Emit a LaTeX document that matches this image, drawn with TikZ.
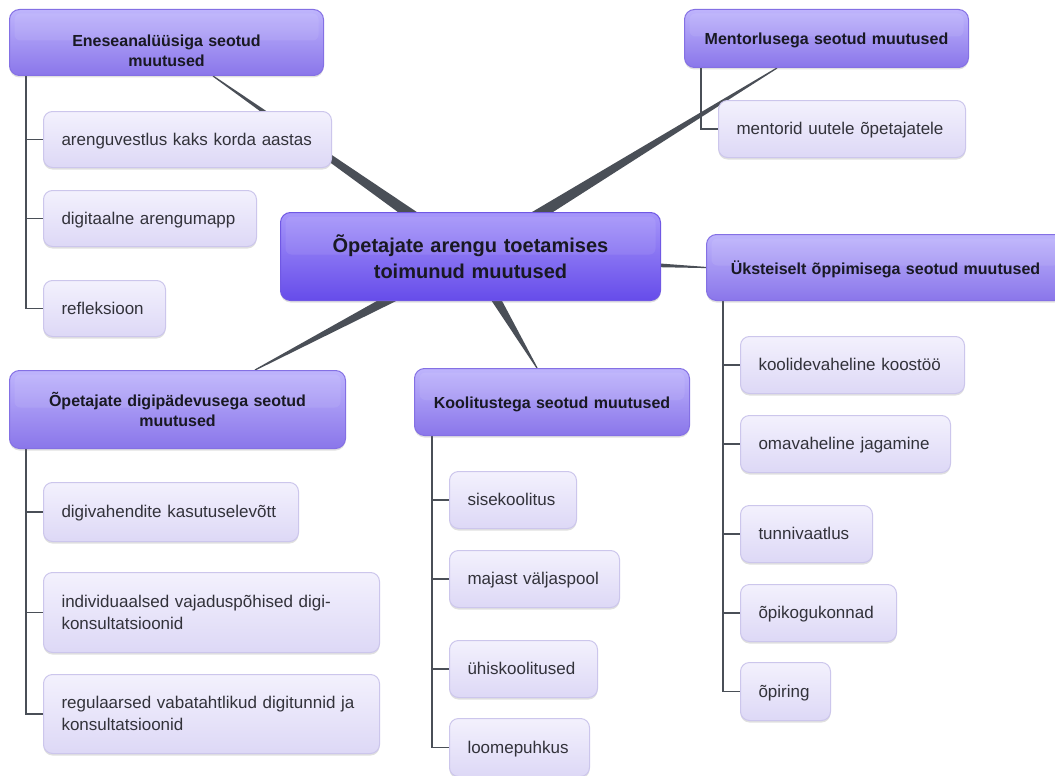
\documentclass[tikz,border=0pt]{standalone}
\usepackage{fontspec}
\setmainfont{Liberation Sans}
\usetikzlibrary{calc,shadows,backgrounds}
\definecolor{hdrtop}{RGB}{190,180,252}
\definecolor{hdrbot}{RGB}{138,118,234}
\definecolor{hdrborder}{RGB}{132,112,228}
\definecolor{roottop}{RGB}{166,150,250}
\definecolor{rootbot}{RGB}{102,76,234}
\definecolor{rootborder}{RGB}{112,88,228}
\definecolor{kidtop}{RGB}{243,241,253}
\definecolor{kidbot}{RGB}{221,216,246}
\definecolor{kidborder}{RGB}{204,198,236}
\definecolor{conncol}{RGB}{74,79,87}
\definecolor{txtdark}{RGB}{25,25,35}
\definecolor{txtkid}{RGB}{50,50,58}
\newcommand\mytaper[2]{%
  \fill[conncol] let \p1=(#1.center), \p2=(#2), \n1={atan2(\y2-\y1,\x2-\x1)} in
    ($(\p1)+(\n1+90:7pt)$) -- ($(\p2)+(\n1+90:0.6pt)$) -- ($(\p2)+(\n1-90:0.6pt)$) -- ($(\p1)+(\n1-90:7pt)$) -- cycle;}
\tikzset{
  shade/.style={drop shadow={shadow xshift=0pt, shadow yshift=-2pt, opacity=0.2, fill=black!60}},
  gloss/.style={path picture={\fill[white, opacity=0.08, rounded corners=6pt]
      ([xshift=5pt,yshift=-4pt]path picture bounding box.north west) rectangle
      ([xshift=-5pt,yshift=2pt]path picture bounding box.east);}},
  hdr/.style={draw=hdrborder, line width=1pt, rounded corners=10pt, top color=hdrtop, bottom color=hdrbot,
      font=\bfseries\fontsize{16}{20}\selectfont, text=txtdark, align=center, anchor=north west,
      inner xsep=2pt, inner ysep=0pt, shade, gloss,
      execute at begin node={\rule{0pt}{18pt}}, execute at end node={\rule[-5pt]{0pt}{0pt}}},
  rootbox/.style={draw=rootborder, line width=1pt, rounded corners=10pt, top color=roottop, bottom color=rootbot,
      font=\bfseries\fontsize{20}{26}\selectfont, text=txtdark, align=center, anchor=north west,
      inner xsep=2pt, inner ysep=0pt, shade, gloss},
  kid/.style={draw=kidborder, line width=1pt, rounded corners=9pt, top color=kidtop, bottom color=kidbot,
      font=\fontsize{17}{22}\selectfont, text=txtkid, align=left, anchor=north west,
      inner xsep=18pt, inner ysep=0pt, shade,
      execute at begin node={\rule{0pt}{16pt}}, execute at end node={\rule[-5pt]{0pt}{0pt}}},
  bracket/.style={draw=conncol, line width=1.5pt}
}
\begin{document}
\begin{tikzpicture}[x=1pt,y=-1pt]
\useasboundingbox (0,0) rectangle (1055,776);
% root
\node[rootbox, text width=376pt, minimum height=88pt] (root) at (280,212) {Õpetajate arengu toetamises\\toimunud muutused};
% headers
\node[hdr, text width=310pt, minimum height=66pt] (hE) at (9,9) {\rule{0pt}{34pt}Eneseanalüüsiga seotud\\muutused};
\node[hdr, text width=280pt, minimum height=58pt] (hM) at (684,9) {Mentorlusega seotud muutused};
\node[hdr, text width=354pt, minimum height=66pt] (hU) at (706,234) {Üksteiselt õppimisega seotud muutused};
\node[hdr, text width=332pt, minimum height=78pt] (hD) at (9,370) {Õpetajate digipädevusega seotud\\muutused};
\node[hdr, text width=271pt, minimum height=67pt] (hK) at (414,368) {Koolitustega seotud muutused};
% children E
\node[kid, text width=252pt, minimum height=56pt] (e1) at (43,111) {arenguvestlus kaks korda aastas};
\node[kid, text width=177pt, minimum height=56pt] (e2) at (43,190) {digitaalne arengumapp};
\node[kid, text width=86pt, minimum height=56pt] (e3) at (43,280) {refleksioon};
% children M
\node[kid, text width=211pt, minimum height=57pt] (m1) at (718,100) {mentorid uutele õpetajatele};
% children U
\node[kid, text width=188pt, minimum height=57pt] (u1) at (740,336) {koolidevaheline koostöö};
\node[kid, text width=174pt, minimum height=57pt] (u2) at (740,415) {omavaheline jagamine};
\node[kid, text width=96pt, minimum height=57pt] (u3) at (740,505) {tunnivaatlus};
\node[kid, text width=120pt, minimum height=57pt] (u4) at (740,584) {õpikogukonnad};
\node[kid, text width=54pt, minimum height=58pt] (u5) at (740,662) {õpiring};
% children D
\node[kid, text width=219pt, minimum height=59pt] (d1) at (43,482) {digivahendite kasutuselevõtt};
\node[kid, text width=300pt, minimum height=80pt] (d2) at (43,572) {individuaalsed vajaduspõhised digi-\\konsultatsioonid};
\node[kid, text width=300pt, minimum height=79pt] (d3) at (43,674) {regulaarsed vabatahtlikud digitunnid ja\\konsultatsioonid};
% children K
\node[kid, text width=91pt, minimum height=57pt] (k1) at (449,471) {sisekoolitus};
\node[kid, text width=134pt, minimum height=57pt] (k2) at (449,550) {majast väljaspool};
\node[kid, text width=112pt, minimum height=57pt] (k3) at (449,640) {ühiskoolitused};
\node[kid, text width=104pt, minimum height=58pt] (k4) at (449,718) {loomepuhkus};
% connector end points
\coordinate (eE) at ([xshift=204pt]hE.south west);
\coordinate (eM) at ([xshift=93pt]hM.south west);
\coordinate (eD) at ([xshift=246pt]hD.north west);
\coordinate (eK) at ([xshift=123pt]hK.north west);
\begin{scope}[on background layer]
  \fill[white] (0,0) rectangle (1055,776);
  \mytaper{root}{eE}
  \mytaper{root}{eM}
  \mytaper{root}{hU.west}
  \mytaper{root}{eD}
  \mytaper{root}{eK}
  \foreach \c in {e1,e2,e3} \draw[bracket] ([xshift=17pt]hE.south west) |- (\c.west);
  \foreach \c in {m1} \draw[bracket] ([xshift=17pt]hM.south west) |- (\c.west);
  \foreach \c in {u1,u2,u3,u4,u5} \draw[bracket] ([xshift=17pt]hU.south west) |- (\c.west);
  \foreach \c in {d1,d2,d3} \draw[bracket] ([xshift=17pt]hD.south west) |- (\c.west);
  \foreach \c in {k1,k2,k3,k4} \draw[bracket] ([xshift=18pt]hK.south west) |- (\c.west);
\end{scope}
\end{tikzpicture}
\end{document}
